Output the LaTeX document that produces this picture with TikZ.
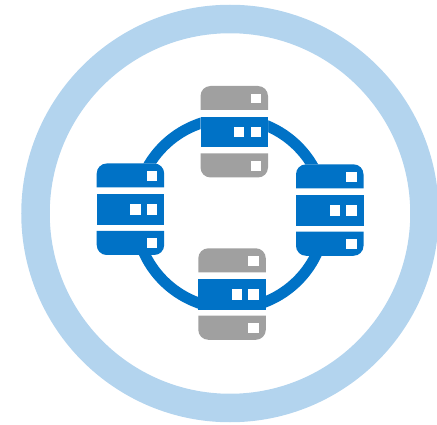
\documentclass[tikz,border=0pt]{standalone}
\usepackage{xcolor}
\definecolor{ringblue}{HTML}{B3D4EE}
\definecolor{netblue}{HTML}{0072C6}
\definecolor{slabgray}{HTML}{A0A0A0}

% one server: its corner (0,0) is the top left of the upper slab
\newcommand{\serverstack}[3]{%
  \begin{scope}[shift={(#1,#2)}]
    % white backing hides the ring in the gaps
    \fill[led, rounded corners=10pt] (0,0) rectangle (67.5,91.5);
    % upper slab
    \fill[#3] (0,24) [rounded corners=10pt] -- (0,0) -- (67.5,0) [sharp corners] -- (67.5,24) -- cycle;
    \fill[led] (50,8) rectangle (60.5,17.5);
    % middle slab
    \fill[netblue] (0,30.7) rectangle (67.5,61.3);
    \fill[led] (33.5,40.7) rectangle (43.8,51.3);
    \fill[led] (50,40.7) rectangle (60.5,51.3);
    % lower slab
    \fill[#3] (0,67.3) -- (67.5,67.3) [rounded corners=10pt] -- (67.5,91.5) -- (0,91.5) [sharp corners] -- cycle;
    \fill[led] (50,74.7) rectangle (60.5,84.7);
  \end{scope}%
}

\begin{document}
\begin{tikzpicture}[
    x=1pt, y=-1pt,
    outerring/.style={draw=ringblue, line width=28.5pt},
    netring/.style={draw=netblue, line width=11pt},
    led/.style={white}
]
\useasboundingbox (0,0) rectangle (437,425);

% large pale ring
\draw[outerring] (230,213.5) circle[radius=194.5];

% ring joining the servers
\draw[netring] (230.5,213.5) circle[radius=95];

% servers
\serverstack{200.5}{86}{slabgray}
\serverstack{96.7}{163.5}{netblue}
\serverstack{296}{164.3}{netblue}
\serverstack{198.3}{248.3}{slabgray}

\end{tikzpicture}
\end{document}
